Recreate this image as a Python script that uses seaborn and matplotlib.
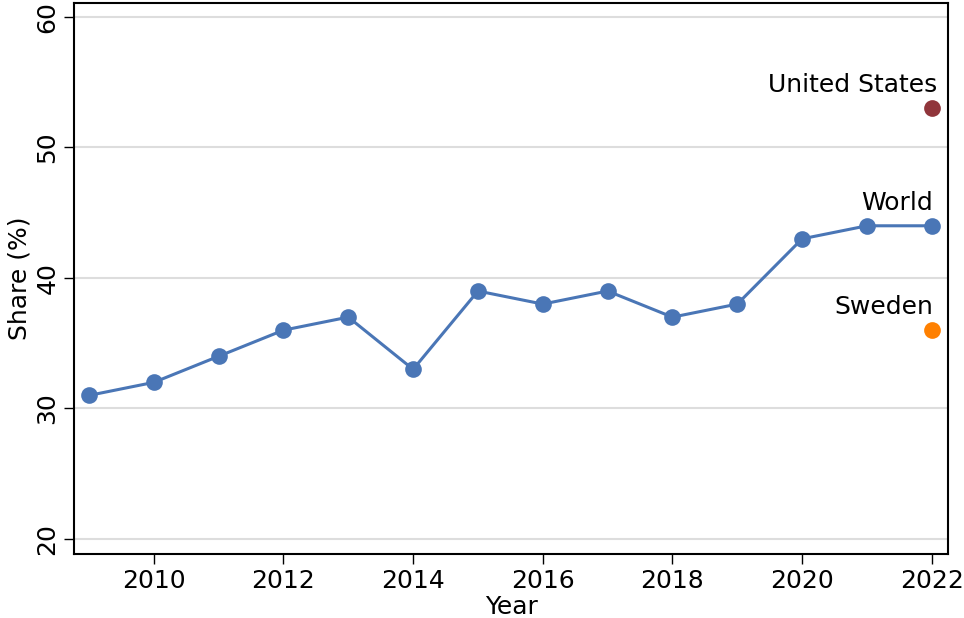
import matplotlib
matplotlib.use('Agg')
import matplotlib.pyplot as plt
import seaborn as sns
import pandas as pd

years = [2009, 2010, 2011, 2012, 2013, 2014, 2015, 2016, 2017, 2018, 2019, 2020, 2021, 2022]
world = [31, 32, 34, 36, 37, 33, 39, 38, 39, 37, 38, 43, 44, 44]
us_year, us_value = 2022, 53
se_year, se_value = 2022, 36

blue = '#4a76b6'
maroon = '#90353b'
orange = '#ff8000'

sns.set_style('white')
plt.rcParams['font.family'] = ['DejaVu Sans']
plt.rcParams['text.color'] = 'black'
plt.rcParams['axes.labelcolor'] = 'black'

df = pd.DataFrame({'Year': years, 'Share': world})

fig = plt.figure(figsize=(9.64, 6.18), dpi=100)
ax = fig.add_axes([0.0768, 0.1036, 0.9066, 0.8915])

sns.lineplot(data=df, x='Year', y='Share', ax=ax, color=blue, linewidth=2.2,
             marker='o', markersize=12, markeredgewidth=0)
sns.scatterplot(x=[us_year], y=[us_value], ax=ax, color=maroon, s=145, linewidth=0)
sns.scatterplot(x=[se_year], y=[se_value], ax=ax, color=orange, s=145, linewidth=0)

# labels over the last points
for label, x, y, dx in [('United States', us_year, us_value, 4), ('World', years[-1], world[-1], 1),
                        ('Sweden', se_year, se_value, 1)]:
    ax.annotate(label, (x, y), xytext=(dx, 11.5), textcoords='offset points',
                ha='right', va='baseline', fontsize=18, color='black')

ax.set_xlim(2008.77, 2022.25)
ax.set_ylim(18.85, 61.07)
ax.set_xticks([2010, 2012, 2014, 2016, 2018, 2020, 2022])
ax.set_yticks([20, 30, 40, 50, 60])
ax.yaxis.grid(True, color='#dddddd', linewidth=1.5)
ax.set_axisbelow(True)
ax.tick_params(axis='both', direction='out', length=7, width=1, labelsize=18, colors='black',
               bottom=True, left=True)
plt.setp(ax.get_yticklabels(), rotation=90, va='center')
ax.set_xlabel('Year', fontsize=18, labelpad=2)
ax.set_ylabel('Share (%)', fontsize=18, labelpad=3)
for s in ax.spines.values():
    s.set_color('black')
    s.set_linewidth(1.5)

fig.savefig('out.png', dpi=100)
